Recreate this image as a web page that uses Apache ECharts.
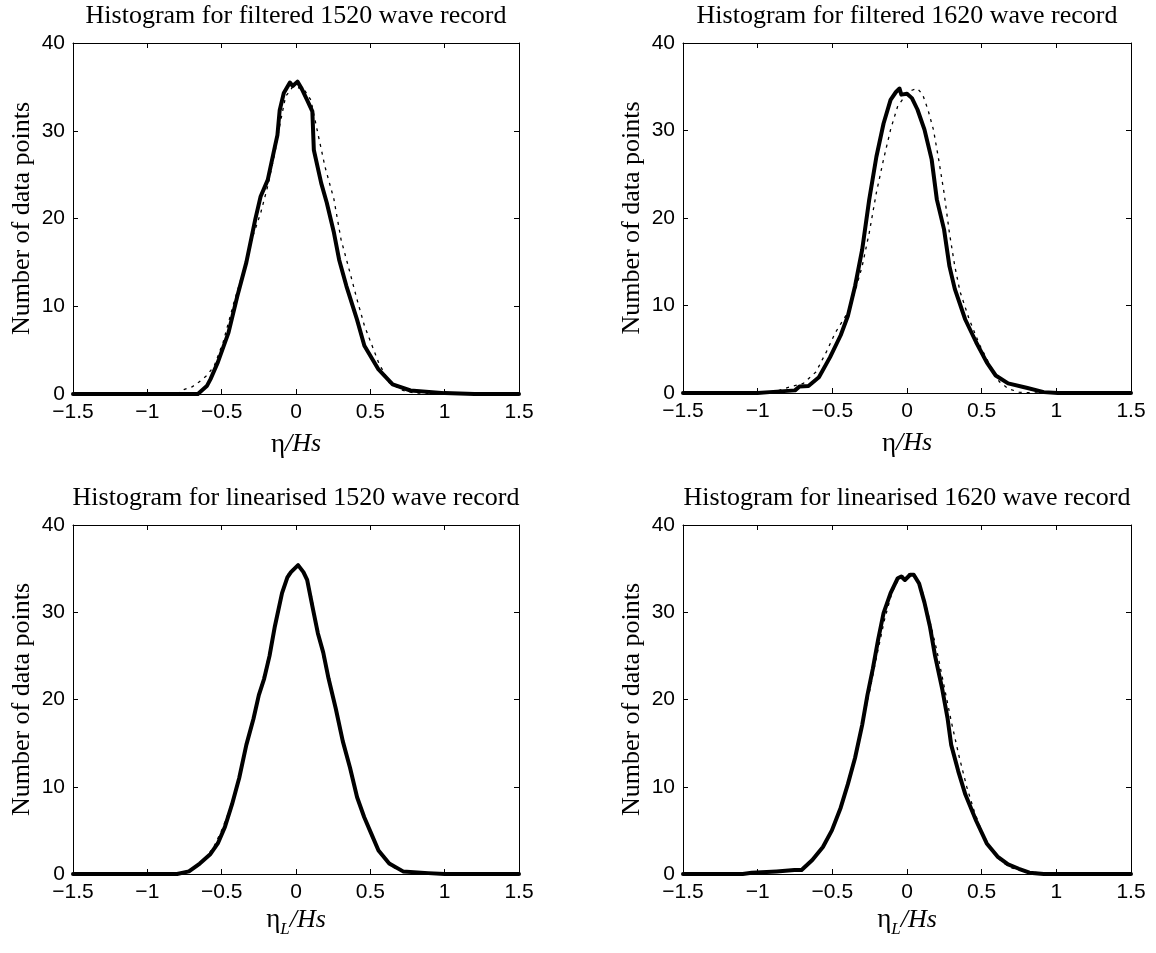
<!DOCTYPE html>
<html>
<head>
<meta charset="utf-8">
<script src="https://cdn.jsdelivr.net/npm/echarts@6/dist/echarts.min.js"></script>
<style>html,body{margin:0;padding:0;background:#fff}#c{width:1156px;height:953px}</style>
</head>
<body>
<div id="c"></div>
<script>
// ---- Data ----
const titles = [
  'Histogram for filtered 1520 wave record',
  'Histogram for filtered 1620 wave record',
  'Histogram for linearised 1520 wave record',
  'Histogram for linearised 1620 wave record'
];
const xTicks = [-1.5, -1, -0.5, 0, 0.5, 1, 1.5];
const yTicks = [0, 10, 20, 30, 40];

// filtered 1520
const f1520SolidX = [-1.5, -0.66, -0.6, -0.575, -0.526, -0.454, -0.394, -0.334, -0.274, -0.238, -0.19, -0.142, -0.125, -0.11, -0.082, -0.041, -0.022, 0.01, 0.038, 0.075, 0.11, 0.12, 0.17, 0.207, 0.255, 0.29, 0.339, 0.41, 0.46, 0.555, 0.65, 0.77, 1.0, 1.2, 1.5];
const f1520SolidY = [0, 0, 0.9, 1.7, 3.6, 7.0, 11.2, 15.0, 19.9, 22.5, 24.4, 28.2, 29.5, 32.3, 34.3, 35.5, 35.1, 35.6, 34.8, 33.5, 32.2, 27.8, 24.0, 21.8, 18.4, 15.3, 12.3, 8.5, 5.5, 2.8, 1.1, 0.4, 0.1, 0, 0];
const f1520DotX = [-1.5, -0.8, -0.755, -0.7, -0.65, -0.6, -0.55, -0.49, -0.418, -0.358, -0.298, -0.238, -0.19, -0.142, -0.106, -0.07, -0.022, 0.05, 0.1, 0.147, 0.195, 0.255, 0.303, 0.351, 0.41, 0.46, 0.555, 0.627, 0.72, 0.8, 1.5];
const f1520DotY = [0, 0, 0.5, 0.8, 1.4, 2.1, 3.2, 5.9, 10.4, 13.8, 17.6, 20.6, 23.7, 27.5, 30.9, 33.9, 35.0, 34.8, 33.5, 29.7, 25.9, 22.2, 17.6, 14.6, 10.8, 7.8, 3.6, 1.3, 0.4, 0.1, 0];

// filtered 1620
const f1620SolidX = [-1.5, -1.0, -0.92, -0.75, -0.72, -0.66, -0.59, -0.515, -0.444, -0.396, -0.348, -0.3, -0.253, -0.205, -0.157, -0.11, -0.074, -0.05, -0.038, 0.0, 0.033, 0.07, 0.117, 0.165, 0.2, 0.248, 0.284, 0.32, 0.39, 0.463, 0.534, 0.594, 0.677, 0.8, 0.916, 1.01, 1.5];
const f1620SolidY = [0, 0, 0.1, 0.3, 0.75, 0.8, 1.8, 4.1, 6.6, 8.8, 12.2, 16.4, 22.1, 27.0, 30.8, 33.5, 34.4, 34.8, 34.1, 34.2, 33.7, 32.4, 30.1, 26.7, 22.1, 18.7, 14.5, 11.9, 8.4, 5.8, 3.5, 2.0, 1.1, 0.6, 0.1, 0, 0];
const f1620DotX = [-1.5, -0.9, -0.825, -0.694, -0.61, -0.54, -0.48, -0.396, -0.348, -0.3, -0.253, -0.205, -0.157, -0.11, -0.062, -0.014, 0.033, 0.07, 0.105, 0.14, 0.177, 0.212, 0.248, 0.284, 0.32, 0.355, 0.415, 0.486, 0.558, 0.618, 0.677, 0.75, 0.85, 1.5];
const f1620DotY = [0, 0, 0.5, 1.1, 2.4, 4.7, 6.9, 9.2, 11.6, 14.5, 18.3, 22.9, 26.7, 30.1, 32.8, 33.9, 34.6, 34.8, 34.1, 32.4, 30.1, 26.7, 22.9, 18.3, 14.5, 11.6, 8.5, 5.5, 3.1, 1.3, 0.5, 0.1, 0, 0];

// linearised 1520
const l1520SolidX = [-1.5, -0.8, -0.72, -0.647, -0.575, -0.526, -0.478, -0.43, -0.382, -0.334, -0.286, -0.25, -0.214, -0.178, -0.142, -0.094, -0.058, -0.034, 0.014, 0.05, 0.075, 0.11, 0.147, 0.183, 0.219, 0.267, 0.315, 0.363, 0.411, 0.459, 0.507, 0.555, 0.627, 0.72, 0.89, 1.0, 1.5];
const l1520SolidY = [0, 0, 0.3, 1.2, 2.3, 3.5, 5.4, 8.0, 11.0, 14.8, 17.8, 20.5, 22.4, 25.0, 28.4, 32.2, 34.0, 34.6, 35.4, 34.6, 33.7, 30.7, 27.6, 25.4, 22.4, 19.0, 15.2, 12.2, 8.8, 6.5, 4.6, 2.7, 1.2, 0.3, 0.1, 0, 0];
const l1520DotX = [-1.5, -0.8, -0.7, -0.65, -0.6, -0.55, -0.5, -0.45, -0.4, -0.35, -0.3, -0.25, -0.2, -0.15, -0.1, -0.05, 0, 0.05, 0.1, 0.15, 0.2, 0.25, 0.3, 0.35, 0.4, 0.45, 0.5, 0.55, 0.6, 0.65, 0.7, 0.8, 1.5];
const l1520DotY = [0, 0, 0.5, 1.2, 2.0, 3.2, 5.0, 7.2, 10.0, 13.6, 17.0, 20.6, 23.8, 27.6, 31.8, 34.5, 35.3, 34.9, 32.2, 27.4, 23.6, 20.0, 16.0, 12.8, 9.5, 6.8, 4.6, 2.9, 1.6, 0.8, 0.4, 0.1, 0];

// linearised 1620
const l1620SolidX = [-1.5, -1.1, -1.04, -0.873, -0.754, -0.706, -0.634, -0.563, -0.503, -0.444, -0.396, -0.348, -0.3, -0.265, -0.229, -0.193, -0.157, -0.11, -0.062, -0.038, -0.014, 0.021, 0.045, 0.081, 0.117, 0.153, 0.188, 0.236, 0.272, 0.296, 0.343, 0.391, 0.463, 0.534, 0.606, 0.677, 0.749, 0.82, 0.916, 1.5];
const l1620SolidY = [0, 0, 0.15, 0.3, 0.45, 0.45, 1.6, 3.1, 5.0, 7.6, 10.3, 13.3, 17.1, 20.5, 23.5, 26.9, 29.9, 32.2, 33.9, 34.1, 33.7, 34.3, 34.3, 33.3, 31.1, 28.4, 25.0, 21.2, 17.8, 14.8, 11.8, 9.1, 6.1, 3.5, 2.0, 1.1, 0.6, 0.15, 0, 0];
const l1620DotX = [-1.5, -1.0, -0.8, -0.7, -0.65, -0.6, -0.55, -0.5, -0.45, -0.4, -0.35, -0.3, -0.25, -0.2, -0.15, -0.1, -0.05, 0, 0.05, 0.1, 0.15, 0.2, 0.25, 0.3, 0.35, 0.4, 0.45, 0.5, 0.55, 0.6, 0.65, 0.7, 0.8, 0.9, 1.5];
const l1620DotY = [0, 0.1, 0.3, 0.7, 1.3, 2.2, 3.5, 5.2, 7.4, 10.2, 13.4, 17.0, 21.0, 25.2, 29.2, 32.3, 34.0, 34.4, 34.2, 32.6, 29.2, 25.6, 21.4, 17.2, 13.4, 10.0, 7.2, 4.9, 3.2, 2.0, 1.2, 0.7, 0.3, 0.1, 0];

// ---- Build chart ----
const panels = [
  {solid: [f1520SolidX, f1520SolidY], dot: [f1520DotX, f1520DotY], sub: false},
  {solid: [f1620SolidX, f1620SolidY], dot: [f1620DotX, f1620DotY], sub: false},
  {solid: [l1520SolidX, l1520SolidY], dot: [l1520DotX, l1520DotY], sub: true},
  {solid: [l1620SolidX, l1620SolidY], dot: [l1620DotX, l1620DotY], sub: true}
];
const grids = [
  {left: 73, top: 43, width: 446, height: 351},
  {left: 683, top: 43, width: 448, height: 350},
  {left: 73, top: 525, width: 446, height: 349},
  {left: 683, top: 525, width: 448, height: 349}
];
const zip = (xs, ys) => xs.map((x, i) => [x, ys[i]]);
const SANS = 'Liberation Sans';
const SERIF = 'Liberation Serif';
const fmtNum = v => String(v).replace('-', '\u2212');

const option = {
  backgroundColor: '#fff',
  animation: false,
  title: [], grid: [], xAxis: [], yAxis: [], series: []
};

panels.forEach((p, i) => {
  const g = grids[i];
  option.grid.push({left: g.left, top: g.top, width: g.width, height: g.height, containLabel: false});
  option.title.push({
    text: titles[i],
    left: g.left + g.width / 2,
    top: g.top - 40,
    padding: 0,
    textAlign: 'center',
    textStyle: {fontFamily: SERIF, fontSize: 26, fontWeight: 'normal', color: '#000'}
  });
  const axisLine = {show: true, onZero: false, lineStyle: {color: '#000', width: 1}};
  const tickIn = {show: true, inside: true, length: 5, lineStyle: {color: '#000', width: 1}};
  const xName = p.sub
    ? '{e|η}{s|L}{i|/Hs}'
    : '{e|η}{i|/Hs}';
  option.xAxis.push({
    type: 'value', gridIndex: i, position: 'bottom',
    min: -1.5, max: 1.5, interval: 0.5,
    axisLine, axisTick: tickIn, splitLine: {show: false},
    axisLabel: {
      show: true, margin: 8, color: '#000', fontFamily: SANS, fontSize: 21,
      formatter: v => fmtNum(v)
    },
    name: xName, nameLocation: 'middle', nameGap: p.sub ? 28 : 37,
    nameTextStyle: {
      color: '#000', fontFamily: SERIF, fontSize: 26,
      rich: {
        e: {fontFamily: SERIF, fontSize: 27, color: '#000'},
        s: {fontFamily: SERIF, fontSize: 17, fontStyle: 'italic', color: '#000', padding: [19, 0, 0, 0]},
        i: {fontFamily: SERIF, fontSize: 26, fontStyle: 'italic', color: '#000'}
      }
    }
  });
  option.xAxis.push({
    type: 'value', gridIndex: i, position: 'top',
    min: -1.5, max: 1.5, interval: 0.5,
    axisLine, axisTick: tickIn, axisLabel: {show: false}, splitLine: {show: false}
  });
  option.yAxis.push({
    type: 'value', gridIndex: i, position: 'left',
    min: 0, max: 40, interval: 10,
    axisLine, axisTick: tickIn, splitLine: {show: false},
    axisLabel: {show: true, margin: 8, color: '#000', fontFamily: SANS, fontSize: 21},
    name: 'Number of data points', nameLocation: 'middle', nameGap: 38, nameRotate: 90,
    nameTextStyle: {color: '#000', fontFamily: SERIF, fontSize: 26}
  });
  option.yAxis.push({
    type: 'value', gridIndex: i, position: 'right',
    min: 0, max: 40, interval: 10,
    axisLine, axisTick: tickIn, axisLabel: {show: false}, splitLine: {show: false}
  });
  option.series.push({
    type: 'line', xAxisIndex: 2 * i, yAxisIndex: 2 * i,
    data: zip(p.dot[0], p.dot[1]), showSymbol: false, symbol: 'none',
    lineStyle: {color: '#000', width: 1.3, type: [3, 5]}, z: 2
  });
  option.series.push({
    type: 'line', xAxisIndex: 2 * i, yAxisIndex: 2 * i,
    data: zip(p.solid[0], p.solid[1]), showSymbol: false, symbol: 'none',
    lineStyle: {color: '#000', width: 4, join: 'round', cap: 'round'}, z: 3
  });
});

const chart = echarts.init(document.getElementById('c'), null, {renderer: 'canvas'});
chart.setOption(option);
</script>
</body>
</html>
